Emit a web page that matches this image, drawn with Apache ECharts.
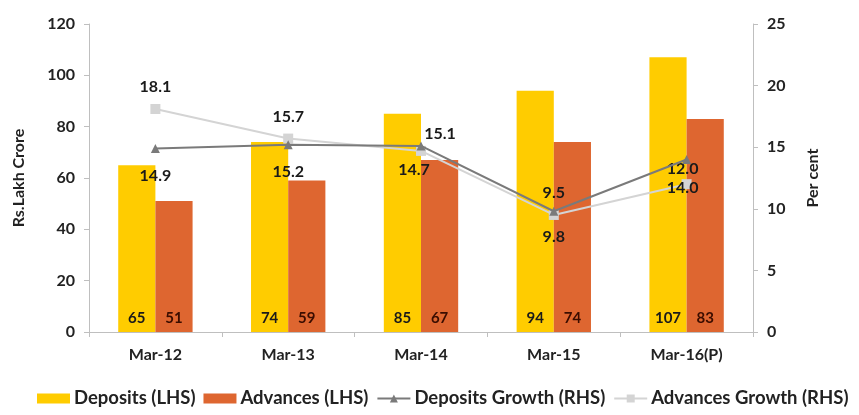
<!DOCTYPE html>
<html>
<head>
<meta charset="utf-8">
<script src="https://cdn.jsdelivr.net/npm/echarts@6/dist/echarts.min.js"></script>
<style>
  html, body { margin: 0; padding: 0; background: #fff; }
  #chart { width: 859px; height: 415px; }
</style>
</head>
<body>
<div id="chart"></div>
<script>
// Categories and values
const categories = ['Mar-12', 'Mar-13', 'Mar-14', 'Mar-15', 'Mar-16(P)'];
const deposits = [65, 74, 85, 94, 107];
const advances = [51, 59, 67, 74, 83];
const depositsGrowth = [14.9, 15.2, 15.1, 9.8, 14.0];
const advancesGrowth = [18.1, 15.7, 14.7, 9.5, 12.0];
const leftTicks = { min: 0, max: 120, interval: 20 };
const rightTicks = { min: 0, max: 25, interval: 5 };

// Label placement for the growth lines (pixel offsets from each marker)
const depLabelOffsets = [[0, 27], [0, 27], [19, -12], [0, 26], [-4, 28]];
const advLabelOffsets = [[0, -22], [0, -22], [-7, 19], [0, -22], [-4, -15]];

const FONT = 'Lato';
const textDark = '#1a1a1a';
const axisGrey = '#bfbfbf';

function lineData(values, offsets) {
  return values.map((v, i) => ({
    value: v,
    label: { offset: offsets[i] }
  }));
}

const chart = echarts.init(document.getElementById('chart'), null, { renderer: 'canvas' });

chart.setOption({
  animation: false,
  textStyle: { fontFamily: FONT },
  grid: { left: 89, right: 106, top: 24, bottom: 83 },
  legend: {
    left: 32,
    top: 384,
    itemGap: 8,
    itemWidth: 33,
    itemHeight: 10,
    textStyle: { fontFamily: FONT, fontWeight: 'bold', fontSize: 18.5, color: '#222', padding: [0, 0, 0, -1] },
    data: [
      { name: 'Deposits (LHS)', icon: 'rect' },
      { name: 'Advances (LHS)', icon: 'rect' },
      { name: 'Deposits Growth (RHS)' },
      { name: 'Advances Growth (RHS)' }
    ]
  },
  xAxis: {
    type: 'category',
    data: categories,
    boundaryGap: true,
    axisLine: { lineStyle: { color: axisGrey, width: 1 } },
    axisTick: { show: true, length: 5, lineStyle: { color: axisGrey } },
    axisLabel: { fontFamily: FONT, fontWeight: 'bold', fontSize: 16, color: '#222', margin: 15 }
  },
  yAxis: [
    {
      type: 'value',
      min: leftTicks.min, max: leftTicks.max, interval: leftTicks.interval,
      name: 'Rs.Lakh Crore',
      nameLocation: 'middle',
      nameGap: 62,
      nameRotate: 90,
      nameTextStyle: { fontFamily: FONT, fontWeight: 'bold', fontSize: 16, color: '#222' },
      axisLine: { show: true, lineStyle: { color: axisGrey } },
      axisTick: { show: true, length: 5, lineStyle: { color: axisGrey } },
      axisLabel: { fontFamily: FONT, fontWeight: 'bold', fontSize: 16, color: '#222', margin: 14 },
      splitLine: { show: false }
    },
    {
      type: 'value',
      min: rightTicks.min, max: rightTicks.max, interval: rightTicks.interval,
      name: 'Per cent',
      nameLocation: 'middle',
      nameGap: 52,
      nameRotate: 90,
      nameTextStyle: { fontFamily: FONT, fontWeight: 'bold', fontSize: 16, color: '#222' },
      axisLine: { show: true, lineStyle: { color: axisGrey } },
      axisTick: { show: true, length: 5, lineStyle: { color: axisGrey } },
      axisLabel: { fontFamily: FONT, fontWeight: 'bold', fontSize: 16, color: '#222', margin: 14 },
      splitLine: { show: false }
    }
  ],
  series: [
    {
      name: 'Deposits (LHS)',
      type: 'bar',
      yAxisIndex: 0,
      data: deposits,
      barWidth: '28%',
      barGap: '0%',
      itemStyle: { color: '#ffcc00' },
      label: {
        show: true, position: 'insideBottom', distance: 6,
        fontFamily: FONT, fontWeight: 'bold', fontSize: 15, color: textDark
      },
      z: 1
    },
    {
      name: 'Advances (LHS)',
      type: 'bar',
      yAxisIndex: 0,
      data: advances,
      barWidth: '28%',
      barGap: '0%',
      itemStyle: { color: '#de6630' },
      label: {
        show: true, position: 'insideBottom', distance: 6,
        fontFamily: FONT, fontWeight: 'bold', fontSize: 15, color: '#3a0d00'
      },
      z: 1
    },
    {
      name: 'Deposits Growth (RHS)',
      type: 'line',
      yAxisIndex: 1,
      data: lineData(depositsGrowth, depLabelOffsets),
      symbol: 'triangle',
      symbolSize: 9,
      lineStyle: { color: '#7a7a7a', width: 2 },
      itemStyle: { color: '#7a7a7a' },
      label: {
        show: true, position: 'inside',
        fontFamily: FONT, fontWeight: 'bold', fontSize: 16, color: textDark,
        formatter: p => Number(p.value).toFixed(1)
      },
      z: 3
    },
    {
      name: 'Advances Growth (RHS)',
      type: 'line',
      yAxisIndex: 1,
      data: lineData(advancesGrowth, advLabelOffsets),
      symbol: 'rect',
      symbolSize: 10,
      lineStyle: { color: '#d4d4d4', width: 2 },
      itemStyle: { color: '#d4d4d4' },
      label: {
        show: true, position: 'inside',
        fontFamily: FONT, fontWeight: 'bold', fontSize: 16, color: textDark,
        formatter: p => Number(p.value).toFixed(1)
      },
      z: 2
    }
  ]
});
</script>
</body>
</html>
